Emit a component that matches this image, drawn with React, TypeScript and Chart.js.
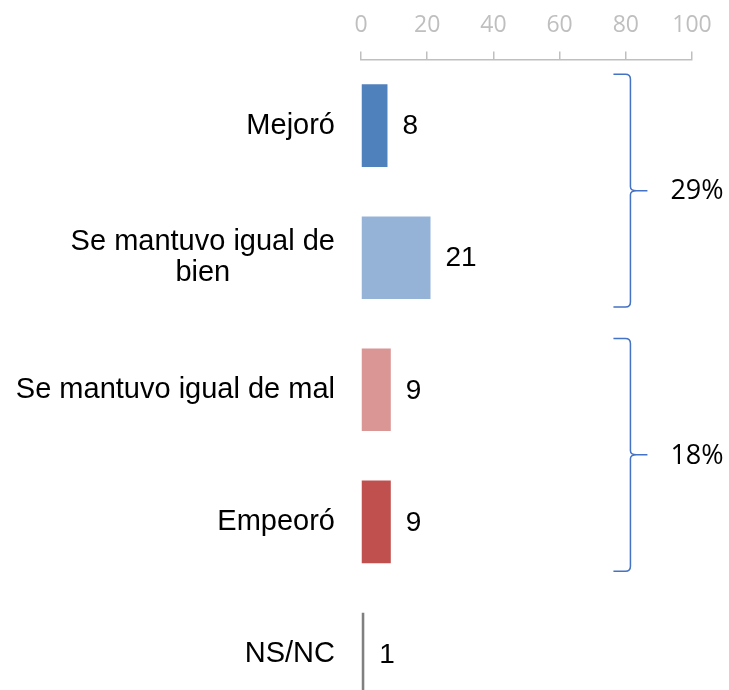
import React, { useEffect, useRef } from "react";
import { Chart, registerables } from "chart.js";

Chart.register(...registerables);

const categories: string[][] = [
  ["Mejoró"],
  ["Se mantuvo igual de", "bien"],
  ["Se mantuvo igual de mal"],
  ["Empeoró"],
  ["NS/NC"],
];
const values = [8, 21, 9, 9, 1];
const barColors = ["#4f81bd", "#95b3d7", "#da9694", "#c0504d", "#808080"];
const xTicks = [0, 20, 40, 60, 80, 100];
const groupRanges: number[][] = [
  [0, 1],
  [2, 3],
];
const groupLabels = ["29%", "18%"];
const braceValue = 81.4;

const LABEL_FONT = '29px "Liberation Sans", Arial, sans-serif';
const VALUE_FONT = '28px "Liberation Sans", Arial, sans-serif';
const PCT_FONT = '27px "Open Sans", "Noto Sans", sans-serif';

const overlayPlugin = {
  id: "overlay",
  afterDatasetsDraw(chart: any) {
    const ctx: CanvasRenderingContext2D = chart.ctx;
    const x = chart.scales.x;
    const y = chart.scales.y;
    const meta = chart.getDatasetMeta(0);
    ctx.save();

    // category labels
    ctx.font = LABEL_FONT;
    ctx.fillStyle = "#000000";
    ctx.textBaseline = "middle";
    ctx.textAlign = "center";
    const right = chart.chartArea.left - 26;
    const lh = 31;
    categories.forEach((lines, i) => {
      const cy = y.getPixelForValue(i);
      const maxW = Math.max(...lines.map((l) => ctx.measureText(l).width));
      lines.forEach((l, j) => {
        const ly = cy + (j - (lines.length - 1) / 2) * lh;
        ctx.fillText(l, right - maxW / 2, ly);
      });
    });

    // value labels
    ctx.font = VALUE_FONT;
    ctx.textAlign = "left";
    meta.data.forEach((bar: any, i: number) => {
      ctx.fillText(String(values[i]), bar.x + 15, bar.y + 1);
    });

    // braces
    ctx.strokeStyle = "#4472c4";
    ctx.lineWidth = 1.5;
    const xl = x.getPixelForValue(braceValue);
    groupRanges.forEach((rng, g) => {
      const b0: any = meta.data[rng[0]];
      const b1: any = meta.data[rng[1]];
      const top = b0.y - b0.height / 2 - 10;
      const bot = b1.y + b1.height / 2 + 8;
      const mid = (top + bot) / 2;
      ctx.beginPath();
      ctx.moveTo(xl - 17, top);
      ctx.lineTo(xl - 5, top);
      ctx.quadraticCurveTo(xl, top, xl, top + 5);
      ctx.lineTo(xl, mid - 4);
      ctx.quadraticCurveTo(xl, mid, xl + 6, mid);
      ctx.lineTo(xl + 17, mid);
      ctx.moveTo(xl + 6, mid);
      ctx.quadraticCurveTo(xl, mid, xl, mid + 4);
      ctx.lineTo(xl, bot - 5);
      ctx.quadraticCurveTo(xl, bot, xl - 5, bot);
      ctx.lineTo(xl - 17, bot);
      ctx.stroke();

      ctx.font = PCT_FONT;
      ctx.fillStyle = "#000000";
      ctx.textAlign = "left";
      ctx.textBaseline = "middle";
      ctx.fillText(groupLabels[g], xl + 40, mid + 1);
    });

    ctx.restore();
  },
};

export default function App() {
  const ref = useRef<HTMLCanvasElement | null>(null);

  useEffect(() => {
    if (!ref.current) return;
    const chart = new Chart(ref.current, {
      type: "bar",
      data: {
        labels: categories.map((c) => c.join(" ")),
        datasets: [
          {
            data: values,
            backgroundColor: barColors,
            barPercentage: 0.625,
            categoryPercentage: 1,
          },
        ],
      },
      options: {
        indexAxis: "y",
        animation: false,
        responsive: false,
        maintainAspectRatio: false,
        layout: { padding: { left: 353, right: 37, top: 0, bottom: 10 } },
        plugins: {
          legend: { display: false },
          tooltip: { enabled: false },
        },
        scales: {
          x: {
            position: "top",
            min: 0,
            max: 100,
            afterBuildTicks: (s: any) => {
              s.ticks = xTicks.map((v) => ({ value: v }));
            },
            ticks: {
              color: "#bfbfbf",
              font: { family: '"Open Sans", "Noto Sans", sans-serif', size: 23 },
              padding: 12,
            },
            grid: {
              drawOnChartArea: false,
              drawTicks: true,
              tickLength: 8,
              color: "#bfbfbf",
              lineWidth: 1.5,
            },
            border: { display: true, color: "#bfbfbf", width: 1.5 },
          },
          y: {
            ticks: { display: false },
            grid: { display: false },
            border: { display: false },
          },
        },
      },
      plugins: [overlayPlugin],
    } as any);
    return () => chart.destroy();
  }, []);

  return (
    <div
      style={{
        position: "fixed",
        left: 0,
        top: 0,
        width: 729,
        height: 690,
        overflow: "hidden",
        background: "#ffffff",
      }}
    >
      <canvas ref={ref} width={729} height={730} style={{ display: "block" }} />
    </div>
  );
}
